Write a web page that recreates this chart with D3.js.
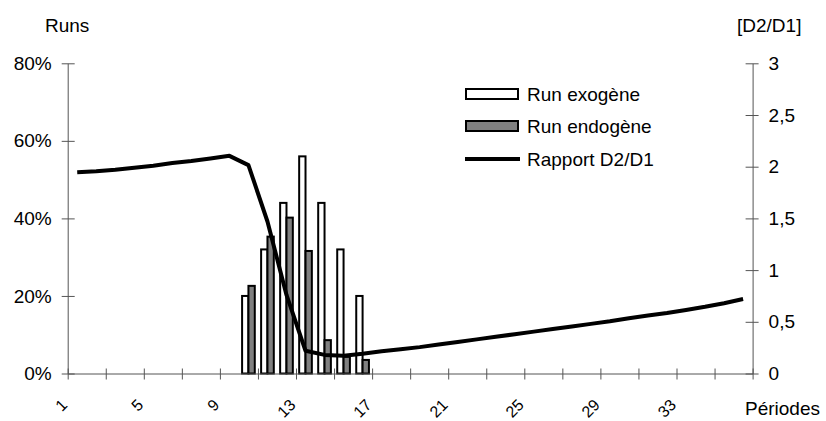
<!DOCTYPE html>
<html><head><meta charset="utf-8">
<script src="https://cdn.jsdelivr.net/npm/d3@7"></script>
<style>
html,body{margin:0;padding:0;background:#fff;}
svg text{font-family:"Liberation Sans",Arial,sans-serif;font-size:19px;fill:#000;}
</style></head>
<body><svg id="c" width="826" height="421"></svg>
<script>
const periods = d3.range(1, 37);
const barPeriods = [10, 11, 12, 13, 14, 15, 16];
const runExogene = [0.20, 0.32, 0.44, 0.56, 0.44, 0.32, 0.20];
const runEndogene = [0.226, 0.353, 0.402, 0.316, 0.086, 0.043, 0.035];
const rapport = [1.946, 1.955, 1.97, 1.99, 2.01, 2.035, 2.055, 2.08, 2.105, 2.015,
  1.47, 0.76, 0.22, 0.18, 0.172, 0.19, 0.215, 0.235, 0.255, 0.28,
  0.305, 0.33, 0.355, 0.38, 0.405, 0.43, 0.455, 0.48, 0.505, 0.535,
  0.56, 0.585, 0.615, 0.645, 0.68, 0.72];
const leftTicks = [0, 0.2, 0.4, 0.6, 0.8];
const rightTicks = [0, 0.5, 1, 1.5, 2, 2.5, 3];
const labelPeriods = [1, 5, 9, 13, 17, 21, 25, 29, 33];
const seriesNames = ["Run exogène", "Run endogène", "Rapport D2/D1"];

const L = 67.7, R = 752.6, T = 63.3, B = 373.5;
const svg = d3.select("#c");

const x = d3.scaleBand().domain(periods).range([L, R]).padding(0);
const xb = d3.scaleLinear().domain([0, 36]).range([L, R]);
const x1 = d3.scaleBand().domain(["exo", "endo"]).range([x.bandwidth() / 6, x.bandwidth() * 5 / 6]);
const yL = d3.scaleLinear().domain([0, 0.8]).range([B, T]);
const yR = d3.scaleLinear().domain([0, 3]).range([B, T]);

const axisColor = "#555";

// bars
const barData = barPeriods.map((p, i) => ({p, exo: runExogene[i], endo: runEndogene[i]}));
const g = svg.append("g");
g.selectAll("rect.exo").data(barData).join("rect")
  .attr("x", d => x(d.p) + x1("exo"))
  .attr("width", x1.bandwidth())
  .attr("y", d => yL(d.exo))
  .attr("height", d => B - yL(d.exo))
  .attr("fill", "#fff").attr("stroke", "#000").attr("stroke-width", 2);
g.selectAll("rect.endo").data(barData).join("rect")
  .attr("x", d => x(d.p) + x1("endo"))
  .attr("width", x1.bandwidth())
  .attr("y", d => yL(d.endo))
  .attr("height", d => B - yL(d.endo))
  .attr("fill", "#808080").attr("stroke", "#000").attr("stroke-width", 2);

// axes
const gx = svg.append("g").attr("transform", `translate(0,${B})`)
  .call(d3.axisBottom(xb).tickValues(d3.range(0, 37, 2)).tickFormat("").tickSizeOuter(0).tickSizeInner(5));
gx.selectAll(".tick line").attr("y1", -5).attr("y2", 6);
gx.selectAll("line,path").attr("stroke", axisColor);

const gl = svg.append("g").attr("transform", `translate(${L},0)`)
  .call(d3.axisLeft(yL).tickValues(leftTicks).tickFormat(d3.format(".0%")).tickSizeOuter(0).tickSizeInner(6).tickPadding(10));
gl.selectAll(".tick line").attr("x1", -6).attr("x2", 7);
gl.selectAll("line,path").attr("stroke", axisColor);
gl.selectAll("text").attr("font-size", 19).attr("font-family", "Liberation Sans, Arial, sans-serif").attr("fill", "#000");

const gr = svg.append("g").attr("transform", `translate(${R},0)`)
  .call(d3.axisRight(yR).tickValues(rightTicks).tickFormat(d => String(d).replace(".", ",")).tickSizeOuter(0).tickSizeInner(6).tickPadding(10));
gr.selectAll(".tick line").attr("x1", -7).attr("x2", 6);
gr.selectAll("line,path").attr("stroke", axisColor);
gr.selectAll("text").attr("font-size", 19).attr("font-family", "Liberation Sans, Arial, sans-serif").attr("fill", "#000");

// x labels rotated
svg.append("g").selectAll("text").data(labelPeriods).join("text")
  .attr("transform", d => `translate(${x(d) + x.bandwidth() / 2 - 9},${B + 32.5}) rotate(-45)`)
  .attr("text-anchor", "end")
  .style("font-size", "16px")
  .text(d => d);

// line
const line = d3.line().x((d, i) => x(periods[i]) + x.bandwidth() / 2).y(d => yR(d));
svg.append("path").datum(rapport).attr("d", line)
  .attr("fill", "none").attr("stroke", "#000").attr("stroke-width", 4).attr("stroke-linejoin", "round");

// titles
svg.append("text").attr("x", 45).attr("y", 32).text("Runs");
svg.append("text").attr("x", 737).attr("y", 32).text("[D2/D1]");
svg.append("text").attr("x", 745).attr("y", 415).text("Périodes");

// legend
const leg = svg.append("g");
const rows = [94, 126, 159];
leg.append("rect").attr("x", 466).attr("y", rows[0] - 5).attr("width", 52).attr("height", 10)
  .attr("fill", "#fff").attr("stroke", "#000").attr("stroke-width", 2);
leg.append("rect").attr("x", 466).attr("y", rows[1] - 5).attr("width", 52).attr("height", 10)
  .attr("fill", "#808080").attr("stroke", "#000").attr("stroke-width", 2);
leg.append("line").attr("x1", 465).attr("x2", 520).attr("y1", rows[2]).attr("y2", rows[2])
  .attr("stroke", "#000").attr("stroke-width", 4);
leg.selectAll("text").data(seriesNames).join("text")
  .attr("x", 527).attr("y", (d, i) => rows[i] + 7).text(d => d);
</script></body></html>
